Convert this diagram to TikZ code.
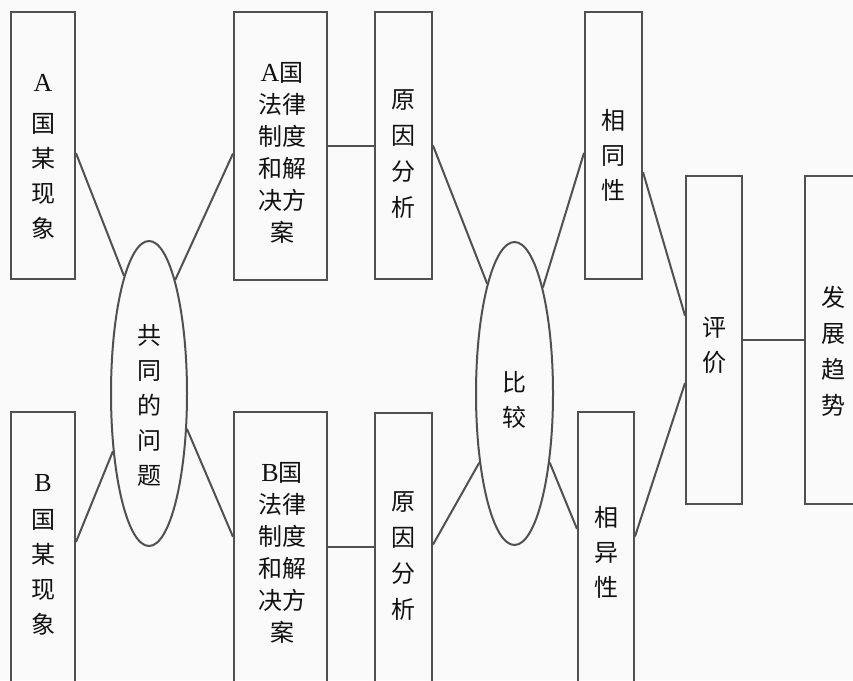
\documentclass[tikz,border=0pt]{standalone}
\usepackage{fontspec}
\newfontfamily\cjk{Noto Sans CJK SC}
\newfontfamily\lat{Liberation Serif}
\usetikzlibrary{shapes.geometric}
\definecolor{ln}{HTML}{505050}
\definecolor{bg}{HTML}{FAFAFA}
\definecolor{tx}{HTML}{111111}
\newcommand{\lt}[1]{{\lat\fontsize{26}{26}\selectfont #1}}
\tikzset{
 box/.style={draw=ln, line width=2pt, rectangle, inner sep=0pt},
 oval/.style={draw=ln, line width=2pt, ellipse, inner sep=0pt},
 lbl/.style={inner sep=0pt, align=center, text=tx, font=\cjk\fontsize{24}{35}\selectfont},
 lbltight/.style={inner sep=0pt, align=center, text=tx, font=\cjk\fontsize{24}{32}\selectfont},
 lblwide/.style={inner sep=0pt, align=center, text=tx, font=\cjk\fontsize{24}{36}\selectfont},
 con/.style={draw=ln, line width=2pt},
}
\begin{document}
\begin{tikzpicture}[x=1pt,y=-1pt]
\useasboundingbox (0,0) rectangle (853,680);
\clip (0,0) rectangle (853,680);
\fill[bg] (0,0) rectangle (853,680);

% boxes
\node[box, minimum width=64pt, minimum height=267pt] (A) at (43,145.5) {};
\node[box, minimum width=93pt, minimum height=268pt] (LA) at (280.5,146) {};
\node[box, minimum width=57pt, minimum height=267pt] (RA) at (403.5,145.5) {};
\node[box, minimum width=57pt, minimum height=267pt] (S) at (613.5,145.5) {};
\node[box, minimum width=56pt, minimum height=328pt] (P) at (714,340) {};
\node[box, minimum width=65pt, minimum height=328pt] (T) at (837.5,340) {};
\node[box, minimum width=64pt, minimum height=288pt] (B) at (43,556) {};
\node[box, minimum width=93pt, minimum height=288pt] (LB) at (280.5,556) {};
\node[box, minimum width=57pt, minimum height=287pt] (RB) at (403.5,556.5) {};
\node[box, minimum width=56pt, minimum height=288pt] (D) at (606,556) {};
\node[oval, minimum width=76pt, minimum height=305pt] (E1) at (149,393.5) {};
\node[oval, minimum width=77pt, minimum height=303pt] (E2) at (514.5,393.5) {};

% texts
\node[lbl] (tA) at (43,157) {\lt{A}\\[6pt]国\\某\\现\\象};
\node[lbltight] (tLA) at (282,152.5) {\lt{A}国\\法律\\制度\\和解\\决方\\案};
\node[lbl] (tE1) at (149,405) {共\\同\\的\\问\\题};
\node[lbl] (tB) at (43,555) {\lt{B}\\[2pt]国\\某\\现\\象};
\node[lbltight] (tLB) at (282,553) {\lt{B}国\\法律\\制度\\和解\\决方\\案};
\node[lblwide] (tRA) at (403,154) {原\\因\\分\\析};
\node[lbl] (tS) at (613,155) {相\\同\\性};
\node[lbl] (tE2) at (514,399.5) {比\\较};
\node[lblwide] (tRB) at (403,556) {原\\因\\分\\析};
\node[lbl] (tD) at (606,552.5) {相\\异\\性};
\node[lbl] (tP) at (714,345.5) {评\\价};
\node[lblwide] (tT) at (833,351) {发\\展\\趋\\势};

% connectors
\draw[con] (A.-13.2) -- (E1.102.7);
\draw[con] (E1.77.8) -- (LA.189.8);
\draw[con] (B.23.6) -- (E1.238.8);
\draw[con] (E1.-43) -- (LB.158.8);
\draw[con] (LA.east) -- (RA.west |- LA.east);
\draw[con] (LB.11) -- (RB.west |- LB.11);
\draw[con] (RA.east) -- (E2.104.2);
\draw[con] (E2.75.8) -- (S.194.7);
\draw[con] (RB.22) -- (E2.243.6);
\draw[con] (E2.-63.6) -- (D.137.1);
\draw[con] (S.-42.9) -- (P.140.6);
\draw[con] (D.34.2) -- (P.236.9);
\draw[con] (P.east) -- (T.west);
\end{tikzpicture}
\end{document}
